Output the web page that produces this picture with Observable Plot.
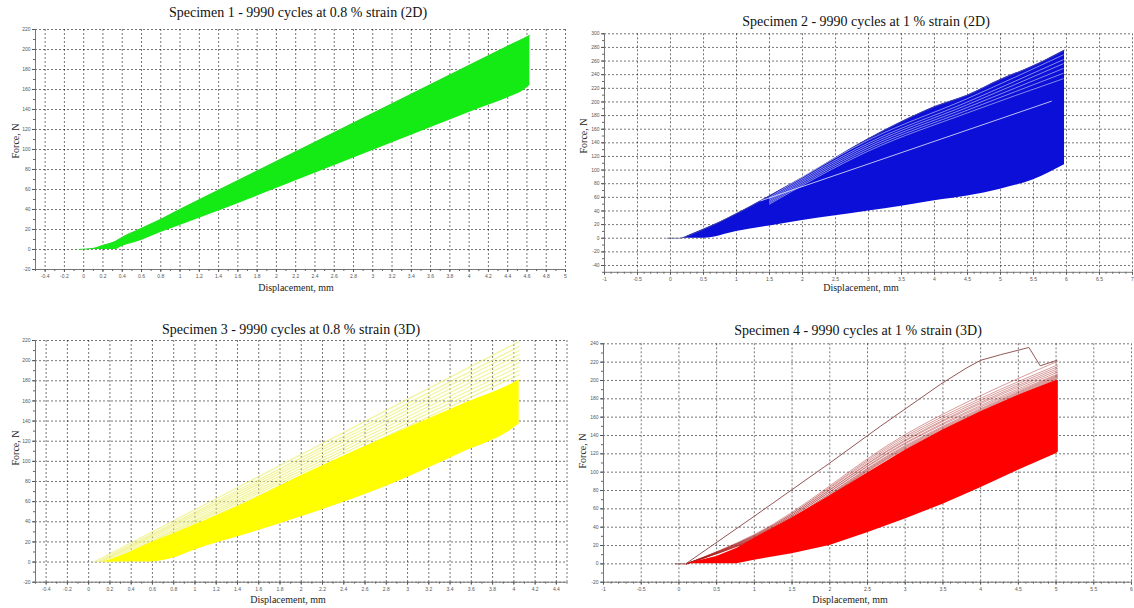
<!DOCTYPE html>
<html>
<head>
<meta charset="utf-8">
<script src="https://cdn.jsdelivr.net/npm/d3@7"></script>
<script src="https://cdn.jsdelivr.net/npm/@observablehq/plot@0.6"></script>
<style>
  html, body { margin: 0; padding: 0; background: #fff; }
  #fig { position: relative; width: 1134px; height: 608px; overflow: hidden; background: #fff; }
  .panel { position: absolute; }
  .txt { position: absolute; white-space: nowrap; font-family: "Liberation Serif", "Times New Roman", serif; color: #222; transform: translate(-50%, -50%); }
  .title { font-size: 14px; color: #111; }
  .xlab { font-size: 10px; }
  .ylab { font-size: 10px; transform: translate(-50%, -50%) rotate(-90deg); }
</style>
</head>
<body>
<div id="fig"></div>
<script>
// ---------------- DATA ----------------
// Specimen 1 (2D, 0.8 % strain) - envelope of the 9990 loading cycles
const s1X     = [-0.05, 0.1, 0.2, 0.33, 0.4, 0.6, 0.8, 1, 1.5, 2, 2.5, 3, 3.5, 4, 4.46, 4.55, 4.63];
const s1Upper = [0, 1, 4, 8, 12, 21, 30, 40, 64, 88, 112, 136, 160, 184, 206, 210, 214];
const s1Lower = [0, 0, 0, 0, 3, 9, 17, 24, 42, 61, 80, 99, 118, 137, 154, 158, 164];

// Specimen 2 (2D, 1 % strain)
const s2X     = [-0.05, 0.15, 0.3, 0.5, 1, 1.5, 2, 2.5, 3, 3.5, 4, 4.5, 5, 5.5, 5.97];
const s2Upper = [0, 0, 5, 13, 36, 62, 89, 118, 146, 171, 193, 210, 233, 253, 276];
const s2Lower = [0, 0, 0, 0, 10, 18, 26, 33, 40, 47, 55, 62, 72, 86, 108];
// white gaps between the upper cycles (force at x = 1.5, 3, 4.5, 5.95 mm)
const s2GapX   = [1.5, 3, 4.5, 5.95];
const s2GapA15 = [60, 58, 56, 54, 52, 50];
const s2GapA3  = [144, 140, 137, 134, 131, 128];
const s2GapA45 = [205, 200, 196, 192, 188, 184];
const s2GapA6  = [269, 262, 256, 249, 242, 234];
// isolated light cycle inside the dense band
const s2SoloX = [1.37, 5.77];
const s2SoloY = [55, 201];

// Specimen 3 (3D, 0.8 % strain)
const s3X     = [-0.02, 0.1, 0.3, 0.58, 0.8, 1, 1.5, 2, 2.5, 3, 3.5, 4, 4.05];
const s3Upper = [0, 0, 6, 19, 28, 37, 60, 86, 110, 133, 156, 178, 181];
const s3Lower = [0, 0, 0, 0, 4, 12, 28, 45, 63, 84, 108, 133, 137];
// first (stiffer) cycles drawn in pale yellow: start displacement and peak force at 4.05 mm
const s3LightStart = [0.05, 0.08, 0.1, 0.12, 0.15, 0.18, 0.2, 0.22, 0.25];
const s3LightPeak  = [219, 214, 210, 206, 202, 198, 194, 190, 186];
const s3EndX = 4.05;

// Specimen 4 (3D, 1 % strain)
const s4X     = [-0.05, 0.1, 0.5, 0.77, 1, 1.5, 2, 2.5, 3, 3.5, 4, 4.5, 5, 5.03];
const s4Upper = [0, 0, 8, 17, 28, 50, 74, 99, 124, 146, 166, 184, 200, 200];
const s4Lower = [0, 0, 0, 0, 4, 11, 20, 34, 49, 65, 83, 102, 120, 122];
// dark-red early cycles: force at x = 0.1, 1, 3, 5.02 mm
const s4DarkX   = [0.1, 1, 3, 5.02];
const s4DarkAt1 = [32, 31, 31, 30, 30, 29, 29, 28, 28, 27, 27, 27];
const s4DarkAt3 = [141, 139, 137, 135, 134, 132, 131, 129, 128, 127, 126, 125];
const s4DarkAt5 = [221, 217, 215, 213, 211, 209, 207, 206, 205, 204, 203, 202];
// first cycle (brown)
const s4FirstX = [-0.05, 0.09, 1, 2, 2.67, 3.47, 3.82, 4.0, 4.26, 4.64, 4.79, 5.01];
const s4FirstY = [0, 0, 52, 110, 150, 196, 214, 222, 228, 236, 216, 222];

// tick labels
const s1XTicks = [-0.4,-0.2,0,0.2,0.4,0.6,0.8,1,1.2,1.4,1.6,1.8,2,2.2,2.4,2.6,2.8,3,3.2,3.4,3.6,3.8,4,4.2,4.4,4.6,4.8,5];
const s1YTicks = [-20,0,20,40,60,80,100,120,140,160,180,200,220];
const s2XTicks = [-1,-0.5,0,0.5,1,1.5,2,2.5,3,3.5,4,4.5,5,5.5,6,6.5,7];
const s2YTicks = [-40,-20,0,20,40,60,80,100,120,140,160,180,200,220,240,260,280,300];
const s3XTicks = [-0.4,-0.2,0,0.2,0.4,0.6,0.8,1,1.2,1.4,1.6,1.8,2,2.2,2.4,2.6,2.8,3,3.2,3.4,3.6,3.8,4,4.2,4.4];
const s3YTicks = [-20,0,20,40,60,80,100,120,140,160,180,200,220];
const s4XTicks = [-1,-0.5,0,0.5,1,1.5,2,2.5,3,3.5,4,4.5,5,5.5,6];
const s4YTicks = [-20,0,20,40,60,80,100,120,140,160,180,200,220,240];

const titles = [
  "Specimen 1 - 9990 cycles at 0.8 % strain (2D)",
  "Specimen 2 - 9990 cycles at 1 % strain (2D)",
  "Specimen 3 - 9990 cycles at 0.8 % strain (3D)",
  "Specimen 4 - 9990 cycles at 1 % strain (3D)"
];
const xLabel = "Displacement, mm";
const yLabel = "Force, N";

// ---------------- HELPERS ----------------
const band = (xs, lo, hi) => xs.map((x, i) => ({x, lo: lo[i], hi: hi[i]}));
const fmt = d => String(d);
const minor = (a, b, step) => d3.range(Math.round(a / step), Math.round(b / step) + 1).map(k => +(k * step).toFixed(3));

function panel(cfg) {
  const gridStyle = {stroke: "#000", strokeOpacity: 0.6, strokeDasharray: "2,2", strokeWidth: 0.9};
  const svg = Plot.plot({
    width: cfg.w, height: cfg.h,
    marginLeft: cfg.mL, marginRight: cfg.mR, marginTop: cfg.mT, marginBottom: cfg.mB,
    x: {domain: cfg.xd, label: null},
    y: {domain: cfg.yd, label: null},
    style: {background: "transparent", fontFamily: "Liberation Sans, Arial, sans-serif", overflow: "visible"},
    marks: [
      Plot.gridX(cfg.xGrid, gridStyle),
      Plot.gridY(cfg.yGrid, gridStyle),
      ...cfg.marks,
      Plot.ruleX([cfg.xd[0]], {stroke: "#777", strokeWidth: 1}),
      Plot.ruleY([cfg.yd[0]], {stroke: "#777", strokeWidth: 1}),
      Plot.axisX(cfg.xMinor, {tickSize: 2, tickFormat: () => "", label: null, color: "#666"}),
      Plot.axisY(cfg.yMinor, {tickSize: 2, tickFormat: () => "", label: null, color: "#666"}),
      Plot.axisX(cfg.xTicks, {tickSize: 3, tickPadding: 2, tickFormat: fmt, fontSize: 5, label: null, color: "#555"}),
      Plot.axisY(cfg.yTicks, {tickSize: 3, tickPadding: 2, tickFormat: fmt, fontSize: 5, label: null, color: "#555"})
    ]
  });
  const div = document.createElement("div");
  div.className = "panel";
  div.style.left = cfg.left + "px";
  div.style.top = cfg.top + "px";
  div.appendChild(svg);
  document.getElementById("fig").appendChild(div);
}

function addText(cls, text, x, y) {
  const d = document.createElement("div");
  d.className = "txt " + cls;
  d.textContent = text;
  d.style.left = x + "px";
  d.style.top = y + "px";
  document.getElementById("fig").appendChild(d);
}

// ---------------- PANEL 1 ----------------
panel({
  left: 0, top: 0, w: 567, h: 300, mL: 35, mR: 2, mT: 29, mB: 31,
  xd: [-0.5, 5], yd: [-20, 220],
  xGrid: s1XTicks, yGrid: s1YTicks,
  xTicks: s1XTicks, yTicks: s1YTicks,
  xMinor: minor(-0.5, 5, 0.1), yMinor: minor(-20, 220, 10),
  marks: [
    Plot.areaY(band(s1X, s1Lower, s1Upper), {x: "x", y1: "lo", y2: "hi", fill: "#14ea14", curve: "monotone-x"}),
    Plot.line(band(s1X, s1Lower, s1Upper), {x: "x", y: "hi", stroke: "#2ed82e", strokeWidth: 0.8, curve: "monotone-x"})
  ]
});

// ---------------- PANEL 2 ----------------
const s2Gaps = s2GapA15.flatMap((v, i) => [s2GapA15[i], s2GapA3[i], s2GapA45[i], s2GapA6[i]].map((y, j) => ({id: i, x: s2GapX[j], y})));
panel({
  left: 567, top: 0, w: 567, h: 300, mL: 37, mR: 2, mT: 33.3, mB: 28.2,
  xd: [-1, 7], yd: [-50, 300],
  xGrid: s2XTicks, yGrid: s2YTicks,
  xTicks: s2XTicks, yTicks: s2YTicks,
  xMinor: minor(-1, 7, 0.1), yMinor: minor(-50, 300, 10),
  marks: [
    Plot.areaY(band(s2X, s2Lower, s2Upper), {x: "x", y1: "lo", y2: "hi", fill: "#0b0fd8", curve: "monotone-x"}),
    Plot.line(band(s2X, s2Lower, s2Upper), {x: "x", y: "hi", stroke: "#55588a", strokeWidth: 0.7, curve: "monotone-x"}),
    Plot.line(s2Gaps, {x: "x", y: "y", z: "id", stroke: "#d8dcf0", strokeWidth: 0.7, strokeOpacity: 0.85, curve: "monotone-x"}),
    Plot.line(s2SoloX.map((x, i) => ({x, y: s2SoloY[i]})), {x: "x", y: "y", stroke: "#e8ecff", strokeWidth: 0.8})
  ]
});

// ---------------- PANEL 3 ----------------
const s3Light = s3LightStart.flatMap((x0, i) => [{id: i, x: x0, y: 0}, {id: i, x: s3EndX, y: s3LightPeak[i]}]);
panel({
  left: 0, top: 304, w: 567, h: 304, mL: 35, mR: 0.5, mT: 36, mB: 26.3,
  xd: [-0.5, 4.5], yd: [-20, 220],
  xGrid: [...s3XTicks, 4.5], yGrid: s3YTicks,
  xTicks: s3XTicks, yTicks: s3YTicks,
  xMinor: minor(-0.5, 4.5, 0.1), yMinor: minor(-20, 220, 10),
  marks: [
    Plot.line(s3Light, {x: "x", y: "y", z: "id", stroke: "#eef07a", strokeWidth: 1.2, strokeOpacity: 0.75}),
    Plot.areaY(band(s3X, s3Lower, s3Upper), {x: "x", y1: "lo", y2: "hi", fill: "#ffff00", curve: "monotone-x"})
  ]
});

// ---------------- PANEL 4 ----------------
const s4Dark = s4DarkAt5.flatMap((v, i) => [0, s4DarkAt1[i], s4DarkAt3[i], s4DarkAt5[i]].map((y, j) => ({id: i, x: s4DarkX[j], y})));
panel({
  left: 567, top: 304, w: 567, h: 304, mL: 36, mR: 3, mT: 39.3, mB: 26.3,
  xd: [-1, 6], yd: [-20, 240],
  xGrid: s4XTicks, yGrid: s4YTicks,
  xTicks: s4XTicks, yTicks: s4YTicks,
  xMinor: minor(-1, 6, 0.1), yMinor: minor(-20, 240, 10),
  marks: [
    Plot.line(s4Dark, {x: "x", y: "y", z: "id", stroke: "#a82020", strokeWidth: 0.6, strokeOpacity: 0.75, curve: "monotone-x"}),
    Plot.areaY(band(s4X, s4Lower, s4Upper), {x: "x", y1: "lo", y2: "hi", fill: "#ff0000", curve: "linear"}),
    Plot.line(s4FirstX.map((x, i) => ({x, y: s4FirstY[i]})), {x: "x", y: "y", stroke: "#935858", strokeWidth: 1})
  ]
});

// ---------------- TEXT ----------------
addText("title", titles[0], 298, 13);
addText("title", titles[1], 866, 22);
addText("title", titles[2], 291, 330);
addText("title", titles[3], 858, 331);
addText("xlab", xLabel, 296, 287);
addText("xlab", xLabel, 861, 287);
addText("xlab", xLabel, 288, 599);
addText("xlab", xLabel, 850, 599);
addText("ylab", yLabel, 14.5, 141);
addText("ylab", yLabel, 583, 136);
addText("ylab", yLabel, 14.5, 448);
addText("ylab", yLabel, 582, 451);
</script>
</body>
</html>
